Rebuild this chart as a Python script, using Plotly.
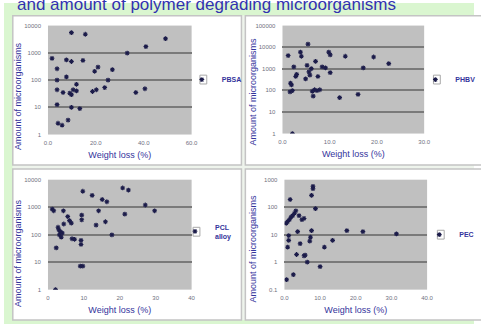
import plotly.graph_objects as go

W, H = 481, 327

# ---------------- data ----------------
pbsa_x = [1.7, 3.8, 3.8, 3.8, 3.8, 4.2, 5.9, 6.3, 7.7, 7.7, 8.4, 9.8, 9.8, 9.8, 9.1, 9.8, 10.5,
          11.9, 11.9, 13.3, 14.6, 15.6, 18.6, 20.2, 19.5, 20.9, 23.7, 25.1, 26.9, 33.1, 36.7,
          40.5, 40.9, 49.1]
pbsa_y = [630, 260, 100, 44, 12.5, 2.6, 2.2, 35, 130, 550, 3.4, 480, 5500, 10, 33, 29, 44,
          70, 40, 9, 525, 4800, 38, 44, 210, 300, 53, 100, 240, 980, 35, 48, 1700, 3300]

phbv_x = [1.2, 2.1, 1.7, 1.9, 1.6, 2.1, 2.4, 2.8, 3.0, 3.8, 4.0, 4.9, 5.2, 5.4, 5.6, 5.8, 6.1,
          6.3, 6.5, 6.8, 7.0, 7.3, 7.5, 7.9, 8.4, 9.1, 9.8, 10.1, 10.1, 12.1, 13.3, 16.0, 17.1,
          19.3, 22.5]
phbv_y = [4100, 1, 215, 180, 85, 98, 1230, 440, 550, 5900, 3800, 340, 1450, 13800, 720, 510,
          1020, 91, 54, 107, 2200, 98, 440, 107, 1230, 1100, 5900, 4400, 660, 46, 3800, 65,
          1100, 3500, 1740]

pcl_x = [1.2, 1.6, 2.3, 2.1, 2.8, 3.0, 3.2, 3.4, 3.7, 4.0, 4.3, 4.4, 5.5, 6.0, 6.5, 6.7, 7.4,
         9.2, 9.2, 9.0, 9.7, 9.4, 9.4, 9.7, 12.3, 13.4, 14.1, 15.1, 16.4, 16.0, 17.8, 20.8,
         22.4, 21.4, 27.1, 29.7]
pcl_y = [850, 740, 33, 1, 186, 151, 98, 129, 81, 115, 740, 245, 457, 324, 263, 71, 68, 62, 44,
         7.2, 7.2, 513, 347, 3800, 2700, 224, 740, 1900, 1580, 295, 98, 5000, 4200, 560, 1200,
         740]

pec_x = [0.6, 0.9, 1.2, 1.2, 1.6, 0.5, 0.9, 1.4, 1.8, 2.3, 2.8, 2.5, 3.2, 3.4, 3.7, 4.1, 4.4,
         4.9, 5.5, 5.5, 5.8, 6.4, 7.1, 7.3, 7.6, 7.6, 8.0, 8.0, 8.7, 10.0, 11.2, 13.5, 17.5,
         22.0, 31.4]
pec_y = [0.23, 3.5, 6.2, 9.3, 190, 26, 30, 35, 43, 49, 60, 0.35, 74, 1.9, 12.9, 49, 4.7, 35,
         39, 1.7, 1.8, 1.0, 5.8, 8.1, 14, 270, 575, 470, 89, 0.69, 3.5, 6.2, 14, 12.9, 10.7]

series_names = ["PBSA", "PHBV", "PCL<br>alloy", "PEC"]

pbsa_xticks = [0, 20, 40, 60]
pbsa_xtext = ["0.0", "20.0", "40.0", "60.0"]
pbsa_yticks = [1, 10, 100, 1000, 10000]
pbsa_ytext = ["1", "10", "100", "1000", "10000"]

phbv_xticks = [0, 10, 20, 30]
phbv_xtext = ["0.0", "10.0", "20.0", "30.0"]
phbv_yticks = [1, 10, 100, 1000, 10000, 100000]
phbv_ytext = ["1", "10", "100", "1000", "10000", "100000"]

pcl_xticks = [0, 10, 20, 30, 40]
pcl_xtext = ["0", "10", "20", "30", "40"]
pcl_yticks = [1, 10, 100, 1000, 10000]
pcl_ytext = ["1", "10", "100", "1000", "10000"]

pec_xticks = [0, 10, 20, 30, 40]
pec_xtext = ["0.0", "10.0", "20.0", "30.0", "40.0"]
pec_yticks = [0.1, 1, 10, 100, 1000]
pec_ytext = ["0.1", "1", "10", "100", "1000"]

title_text = "and amount of polymer degrading microorganisms"
xtitle = "Weight loss (%)"
ytitle = "Amount of microorganisms"

# ---------------- style ----------------
FONT = "Liberation Sans, Arial, sans-serif"
BLUE = "#34349c"
TICKC = "#707080"
PLOTBG = "#c0c0c0"
GRIDC = "#7a7a7a"
MARK = "#1c1c4a"
GREEN = "#daf6d0"
GAP = "#eef4ec"


def px_x(p):
    return p / W


def px_y(p):
    return 1 - p / H


fig = go.Figure()

panels = [
    dict(x=pbsa_x, y=pbsa_y, xt=pbsa_xticks, xtt=pbsa_xtext, yt=pbsa_yticks, ytt=pbsa_ytext,
         xr=[0, 60], yr=[0, 4], dom_x=(45, 192), dom_y=(23, 134), leg=(182, 78), yt_pos=(15, 95)),
    dict(x=phbv_x, y=phbv_y, xt=phbv_xticks, xtt=phbv_xtext, yt=phbv_yticks, ytt=phbv_ytext,
         xr=[0, 30], yr=[0, 5], dom_x=(285, 430), dom_y=(23, 133), leg=(421, 78), yt_pos=(255, 90)),
    dict(x=pcl_x, y=pcl_y, xt=pcl_xticks, xtt=pcl_xtext, yt=pcl_yticks, ytt=pcl_ytext,
         xr=[0, 40], yr=[0, 4], dom_x=(45, 192), dom_y=(180, 292), leg=(175, 233), yt_pos=(15, 255)),
    dict(x=pec_x, y=pec_y, xt=pec_xticks, xtt=pec_xtext, yt=pec_yticks, ytt=pec_ytext,
         xr=[0, 40], yr=[-1, 3], dom_x=(287, 433), dom_y=(180, 292), leg=(425, 236), yt_pos=(255, 250)),
]

# green page frame and gaps between panels (drawn outside the plot areas)
frame = [((0, 0, W, 13), GREEN), ((0, 0, 9, H), GREEN), ((0, 323, W, H), GREEN),
         ((243, 13, 247, 323), GAP), ((9, 165, W, 169), GAP)]
panel_boxes = [(9, 13, 243, 165), (247, 13, 490, 165), (9, 169, 243, 323), (247, 169, 490, 323)]

shapes = []
for (x0, y0, x1, y1), col in frame:
    shapes.append(dict(type="rect", xref="paper", yref="paper",
                       x0=px_x(x0), x1=px_x(x1), y0=px_y(y1), y1=px_y(y0),
                       fillcolor=col, line=dict(width=0), layer="below"))
for (x0, y0, x1, y1) in panel_boxes:
    shapes.append(dict(type="rect", xref="paper", yref="paper",
                       x0=px_x(x0), x1=px_x(x1), y0=px_y(y1), y1=px_y(y0),
                       fillcolor="rgba(0,0,0,0)", line=dict(color="#c4c4c4", width=1.5),
                       layer="below"))

annotations = [dict(text=title_text, xref="paper", yref="paper", x=px_x(11), y=px_y(13),
                    xanchor="left", yanchor="bottom", showarrow=False,
                    font=dict(family=FONT, size=17, color="#3232b0"))]

layout_axes = {}
for i, p in enumerate(panels, start=1):
    sfx = "" if i == 1 else str(i)
    legname = "legend" if i == 1 else f"legend{i}"
    fig.add_trace(go.Scatter(
        x=p["x"], y=p["y"], mode="markers", name=series_names[i - 1],
        xaxis=f"x{sfx}", yaxis=f"y{sfx}", legend=legname,
        marker=dict(symbol="asterisk-open", size=4, color=MARK,
                    line=dict(color=MARK, width=1.1)),
        showlegend=True))
    # same data on the label axis (transparent) so that the label axis is drawn
    fig.add_trace(go.Scatter(
        x=p["x"], y=p["y"], mode="markers", xaxis=f"x{sfx}", yaxis=f"y{i + 4}",
        marker=dict(size=1, opacity=0), showlegend=False, hoverinfo="skip"))
    layout_axes[f"xaxis{sfx}"] = dict(
        domain=[px_x(p["dom_x"][0]), px_x(p["dom_x"][1])], range=p["xr"],
        anchor=f"y{sfx}", tickmode="array", tickvals=p["xt"], ticktext=p["xtt"],
        showgrid=False, zeroline=False, showline=False, ticks="", ticklabelstandoff=3,
        tickfont=dict(family=FONT, size=6, color=TICKC),
        title=dict(text=xtitle, font=dict(family=FONT, size=9, color=BLUE), standoff=7))
    # grid axis: interior gridlines only
    layout_axes[f"yaxis{sfx}"] = dict(
        domain=[px_y(p["dom_y"][1]), px_y(p["dom_y"][0])], range=p["yr"], type="log",
        anchor=f"x{sfx}", tickmode="array", tickvals=p["yt"][1:-1],
        showticklabels=False, showgrid=True, gridcolor=GRIDC, gridwidth=1.6,
        zeroline=False, showline=False, ticks="")
    # label axis: all decade labels
    layout_axes[f"yaxis{i + 4}"] = dict(
        overlaying=f"y{sfx}", anchor=f"x{sfx}", side="left", range=p["yr"], type="log",
        tickmode="array", tickvals=p["yt"], ticktext=p["ytt"], showgrid=False,
        zeroline=False, showline=False, ticks="", ticklabelstandoff=6,
        tickfont=dict(family=FONT, size=6, color=TICKC))
    layout_axes[legname] = dict(
        x=px_x(p["leg"][0]), y=px_y(p["leg"][1]), xanchor="left", yanchor="middle",
        bgcolor="rgba(0,0,0,0)", borderwidth=0, itemwidth=30,
        font=dict(family=FONT, size=7, color=BLUE, weight="bold"))
    # small frame around the legend symbol
    sx, sy = p["leg"][0] + 22, p["leg"][1]
    shapes.append(dict(type="rect", xref="paper", yref="paper",
                       x0=px_x(sx - 3.5), x1=px_x(sx + 3.5), y0=px_y(sy + 4.5), y1=px_y(sy - 4.5),
                       fillcolor="rgba(0,0,0,0)", line=dict(color="#a8a8a8", width=1)))
    annotations.append(dict(text=ytitle, xref="paper", yref="paper",
                            x=px_x(p["yt_pos"][0]), y=px_y(p["yt_pos"][1]),
                            xanchor="center", yanchor="middle", textangle=-90, showarrow=False,
                            font=dict(family=FONT, size=9, color=BLUE)))

fig.update_layout(
    width=W, height=H, autosize=False,
    margin=dict(l=0, r=0, t=0, b=0),
    paper_bgcolor="white", plot_bgcolor=PLOTBG,
    shapes=shapes, annotations=annotations,
    **layout_axes)

fig.write_html("out.html", config={"displayModeBar": False},
               post_script="document.body.style.margin='0';document.body.style.overflow='hidden';")
